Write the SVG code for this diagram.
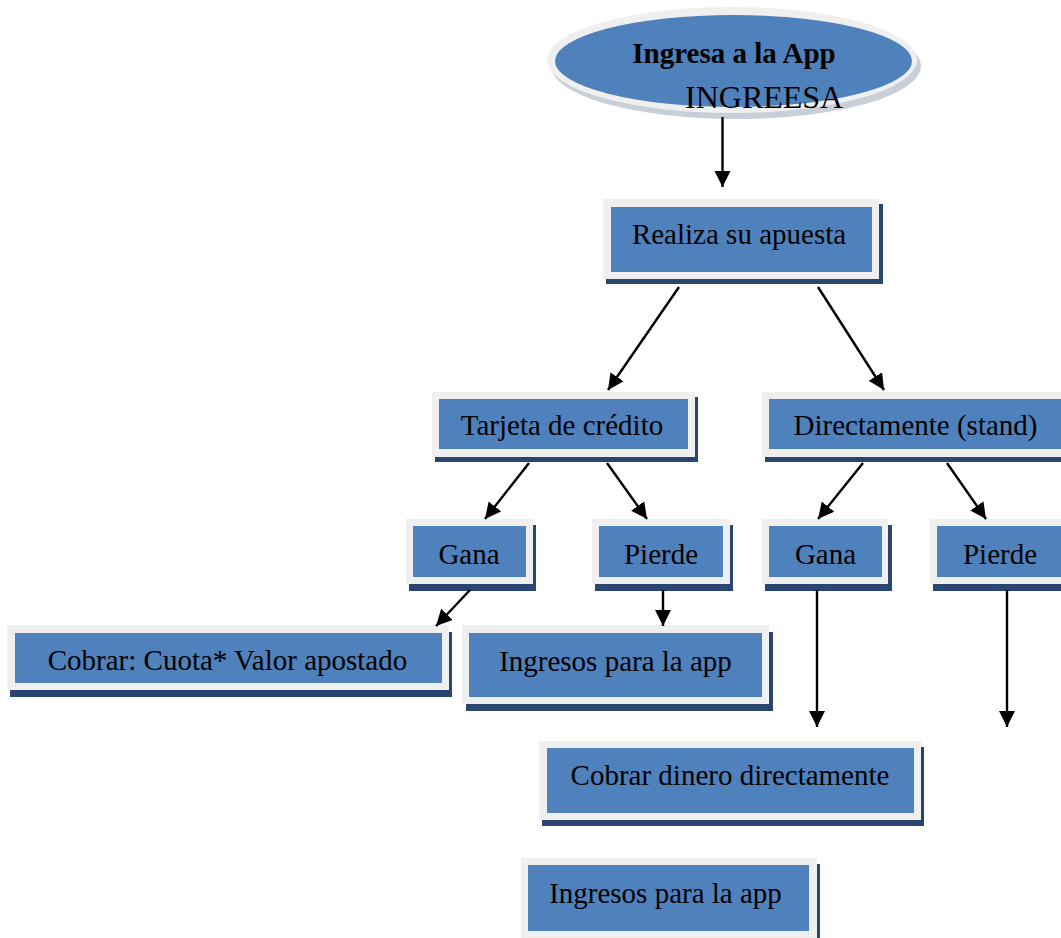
<svg xmlns="http://www.w3.org/2000/svg" width="1061" height="938" viewBox="0 0 1061 938">
  <style>
    .frame { fill: #efefef; }
    .box { fill: #4f81bd; }
    .shadow { fill: #2a4570; }
    .lbl { font-family: "Liberation Serif", "Times New Roman", serif; font-size: 29px; fill: #000; text-anchor: middle; }
    .conn { stroke: #000; stroke-width: 2.4; fill: none; marker-end: url(#arrow); }
  </style>
  <defs>
    <marker id="arrow" markerUnits="userSpaceOnUse" markerWidth="18" markerHeight="18" refX="16" refY="8" orient="auto">
      <path d="M0,0 L16,8 L0,16 z" fill="#000"/>
    </marker>
  </defs>
  <rect width="1061" height="938" fill="#fff"/>

  <g id="node-ingresa">
    <ellipse cx="736" cy="66" rx="185" ry="53" fill="#c9cfd8"/>
    <ellipse cx="732" cy="60" rx="185" ry="53" fill="#efefef"/>
    <ellipse cx="733.5" cy="61" rx="178.5" ry="46" fill="#4f81bd"/>
    <text class="lbl" x="734" y="63" font-weight="bold">Ingresa a la App</text>
    <text x="685" y="108" font-family="'Liberation Serif', 'Times New Roman', serif" font-size="32" fill="#000">INGREESA</text>
  </g>

  <g id="node-realiza">
    <rect class="shadow" x="606" y="204" width="277" height="80"/>
    <rect class="frame" x="603" y="199" width="276" height="80"/>
    <rect class="box" x="611" y="207" width="261" height="65"/>
    <text class="lbl" x="739" y="244">Realiza su apuesta</text>
  </g>

  <g id="node-tarjeta">
    <rect class="shadow" x="435" y="397" width="263" height="65"/>
    <rect class="frame" x="432" y="392" width="263" height="65"/>
    <rect class="box" x="439" y="399" width="249" height="50"/>
    <text class="lbl" x="562" y="435">Tarjeta de crédito</text>
  </g>

  <g id="node-directamente">
    <rect class="shadow" x="765" y="397" width="307" height="65"/>
    <rect class="frame" x="762" y="392" width="307" height="65"/>
    <rect class="box" x="769" y="399" width="293" height="50"/>
    <text class="lbl" x="915.5" y="435">Directamente (stand)</text>
  </g>

  <g id="node-gana-1">
    <rect class="shadow" x="409" y="525" width="127" height="66"/>
    <rect class="frame" x="406" y="519" width="127" height="65"/>
    <rect class="box" x="413" y="526" width="113" height="51"/>
    <text class="lbl" x="469" y="564">Gana</text>
  </g>

  <g id="node-pierde-1">
    <rect class="shadow" x="595" y="525" width="138" height="66"/>
    <rect class="frame" x="592" y="519" width="138" height="65"/>
    <rect class="box" x="599" y="526" width="124" height="51"/>
    <text class="lbl" x="661" y="564">Pierde</text>
  </g>

  <g id="node-gana-2">
    <rect class="shadow" x="765" y="525" width="127" height="66"/>
    <rect class="frame" x="762" y="519" width="126" height="65"/>
    <rect class="box" x="769" y="526" width="113" height="51"/>
    <text class="lbl" x="825.5" y="564">Gana</text>
  </g>

  <g id="node-pierde-2">
    <rect class="shadow" x="933" y="525" width="140" height="66"/>
    <rect class="frame" x="930" y="519" width="140" height="65"/>
    <rect class="box" x="937" y="526" width="126" height="51"/>
    <text class="lbl" x="1000" y="564">Pierde</text>
  </g>

  <g id="node-cobrar-cuota">
    <rect class="shadow" x="10" y="632" width="442" height="65"/>
    <rect class="frame" x="7" y="625" width="442" height="65"/>
    <rect class="box" x="15" y="633" width="427" height="50"/>
    <text class="lbl" x="227.5" y="670">Cobrar: Cuota* Valor apostado</text>
  </g>

  <g id="node-ingresos-1">
    <rect class="shadow" x="466" y="632" width="307" height="79"/>
    <rect class="frame" x="462" y="625" width="307" height="79"/>
    <rect class="box" x="469" y="633" width="293" height="64"/>
    <text class="lbl" x="615.5" y="671">Ingresos para la app</text>
  </g>

  <g id="node-cobrar-dinero">
    <rect class="shadow" x="542" y="747" width="382" height="79"/>
    <rect class="frame" x="539" y="741" width="382" height="79"/>
    <rect class="box" x="547" y="748" width="367" height="65"/>
    <text class="lbl" x="730" y="785">Cobrar dinero directamente</text>
  </g>

  <g id="node-ingresos-2">
    <rect class="shadow" x="524" y="864" width="296" height="80"/>
    <rect class="frame" x="521" y="858" width="296" height="82"/>
    <rect class="box" x="528" y="865" width="281" height="66"/>
    <text class="lbl" x="665.5" y="903">Ingresos para la app</text>
  </g>

  <g id="connectors">
    <line class="conn" x1="722.5" y1="117" x2="722.5" y2="187"/>
    <line class="conn" x1="679" y1="287" x2="608" y2="390"/>
    <line class="conn" x1="818" y1="287" x2="884" y2="390"/>
    <line class="conn" x1="529" y1="463" x2="485" y2="519"/>
    <line class="conn" x1="607" y1="463" x2="647" y2="519"/>
    <line class="conn" x1="863" y1="463" x2="818" y2="519"/>
    <line class="conn" x1="947" y1="463" x2="986" y2="519"/>
    <line class="conn" x1="470" y1="590" x2="436" y2="626"/>
    <line class="conn" x1="663" y1="590" x2="663" y2="626"/>
    <line class="conn" x1="817" y1="590" x2="817" y2="727"/>
    <line class="conn" x1="1007" y1="590" x2="1007" y2="727"/>
  </g>
</svg>
